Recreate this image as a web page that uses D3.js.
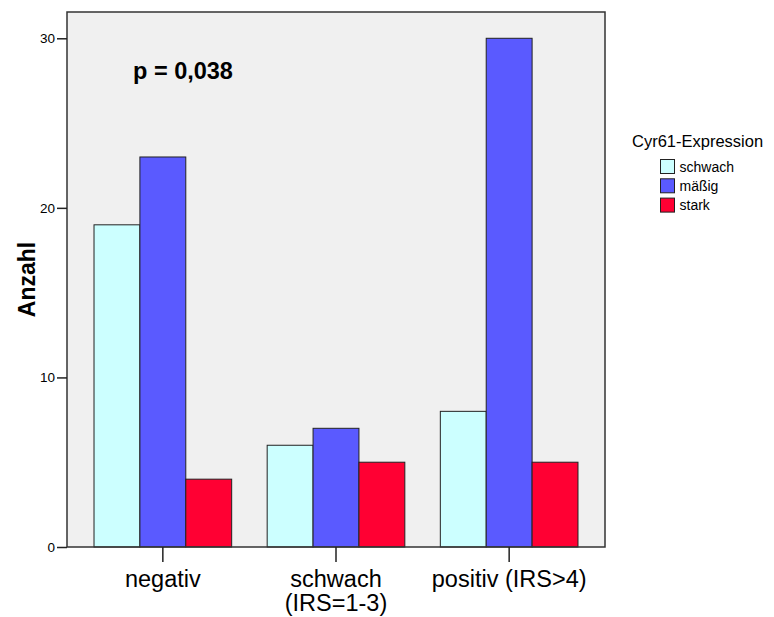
<!DOCTYPE html>
<html>
<head>
<meta charset="utf-8">
<script src="https://cdn.jsdelivr.net/npm/d3@7"></script>
<style>
  html, body { margin: 0; padding: 0; background: #fff; }
  svg { display: block; font-family: Arial, "Liberation Sans", sans-serif; }
</style>
</head>
<body>
<svg id="chart" width="774" height="617"></svg>
<script>
// Cyr61 expression counts per IRS group
const categories = ["negativ", "schwach\n(IRS=1-3)", "positiv (IRS>4)"];
const seriesNames = ["schwach", "mäßig", "stark"];
const schwach = [19, 6, 8];
const maessig = [23, 7, 30];
const stark = [4, 5, 5];
const seriesValues = [schwach, maessig, stark];
const colors = ["#ccffff", "#5a5aff", "#ff0033"];
const yTicks = [0, 10, 20, 30];
const yLabel = "Anzahl";
const legendTitle = "Cyr61-Expression";
const annotation = "p = 0,038";

const svg = d3.select("#chart");
const plot = { left: 67, right: 605, top: 12, bottom: 547 };

const x = d3.scaleBand()
  .domain(categories)
  .range([plot.left, plot.right])
  .paddingInner(0.205)
  .paddingOuter(0.156);

const xInner = d3.scaleBand()
  .domain(seriesNames)
  .range([0, x.bandwidth()]);

const y = d3.scaleLinear()
  .domain([0, 31.55])
  .range([plot.bottom, plot.top]);

// plot background
svg.append("rect")
  .attr("x", plot.left).attr("y", plot.top)
  .attr("width", plot.right - plot.left)
  .attr("height", plot.bottom - plot.top)
  .attr("fill", "#f0f0f0");

// bars
const rows = categories.map((c, i) => ({
  cat: c,
  vals: seriesNames.map((s, j) => ({ s, v: seriesValues[j][i], color: colors[j] }))
}));

svg.append("g").selectAll("g")
  .data(rows).join("g")
  .attr("transform", d => `translate(${x(d.cat)},0)`)
  .selectAll("rect")
  .data(d => d.vals).join("rect")
  .attr("x", d => xInner(d.s))
  .attr("y", d => y(d.v))
  .attr("width", xInner.bandwidth())
  .attr("height", d => y(0) - y(d.v))
  .attr("fill", d => d.color)
  .attr("stroke", "#222")
  .attr("stroke-width", 1);

// frame
svg.append("rect")
  .attr("x", plot.left).attr("y", plot.top)
  .attr("width", plot.right - plot.left)
  .attr("height", plot.bottom - plot.top)
  .attr("fill", "none")
  .attr("stroke", "#333")
  .attr("stroke-width", 1.5);

// y axis
const yAxis = d3.axisLeft(y).tickValues(yTicks).tickSize(10).tickPadding(2).tickFormat(d3.format("d"));
const gy = svg.append("g").attr("transform", `translate(${plot.left},0)`).call(yAxis);
gy.select(".domain").remove();
gy.selectAll(".tick line").attr("stroke", "#222").attr("stroke-width", 1.5);
gy.selectAll(".tick text").attr("font-size", 13.5).attr("fill", "#000").attr("font-family", "Arial, 'Liberation Sans', sans-serif");

// x axis
const xAxis = d3.axisBottom(x).tickSize(15).tickFormat("");
const gx = svg.append("g").attr("transform", `translate(0,${plot.bottom})`).call(xAxis);
gx.select(".domain").remove();
gx.selectAll(".tick line").attr("stroke", "#222").attr("stroke-width", 1.5);

const xl = svg.append("g").selectAll("text")
  .data(categories).join("text")
  .attr("x", d => x(d) + x.bandwidth() / 2)
  .attr("y", 587)
  .attr("text-anchor", "middle")
  .attr("font-size", 23.5)
  .attr("fill", "#000");
xl.each(function (d) {
  const lines = d.split("\n");
  const t = d3.select(this);
  lines.forEach((ln, i) => {
    t.append("tspan")
      .attr("x", x(d) + x.bandwidth() / 2)
      .attr("dy", i === 0 ? 0 : 24)
      .text(ln);
  });
});

// y label
svg.append("text")
  .attr("transform", `translate(35,${(plot.top + plot.bottom) / 2}) rotate(-90)`)
  .attr("text-anchor", "middle")
  .attr("font-size", 23)
  .attr("font-weight", "bold")
  .attr("fill", "#000")
  .text(yLabel);

// annotation
svg.append("text")
  .attr("x", 133).attr("y", 79)
  .attr("font-size", 23.5)
  .attr("font-weight", "bold")
  .attr("fill", "#000")
  .text(annotation);

// legend
const lg = svg.append("g");
lg.append("text")
  .attr("x", 632).attr("y", 147)
  .attr("font-size", 16.5)
  .attr("fill", "#000")
  .text(legendTitle);
const items = lg.selectAll("g.item")
  .data(seriesNames).join("g")
  .attr("class", "item")
  .attr("transform", (d, i) => `translate(660.5,${159.5 + i * 19.3})`);
items.append("rect")
  .attr("width", 14).attr("height", 14)
  .attr("fill", (d, i) => colors[i])
  .attr("stroke", "#222").attr("stroke-width", 1);
items.append("text")
  .attr("x", 19).attr("y", 12)
  .attr("font-size", 14)
  .attr("fill", "#000")
  .text(d => d);
</script>
</body>
</html>
